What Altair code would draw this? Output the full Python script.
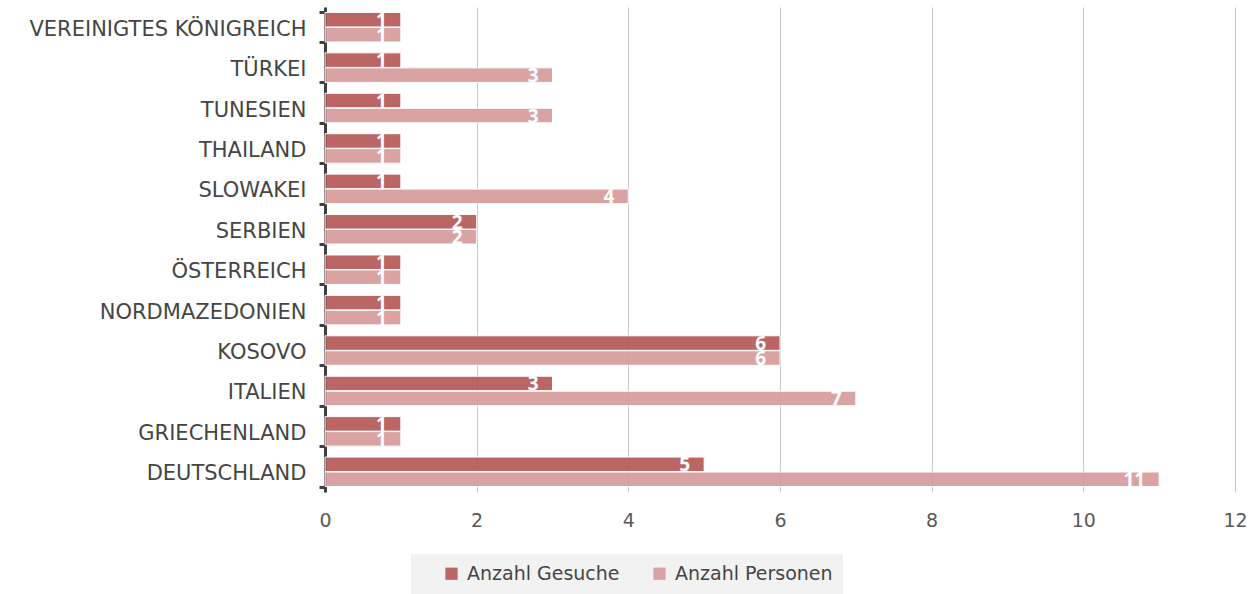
import altair as alt
import pandas as pd

# Countries, top to bottom
laender = [
    "VEREINIGTES KÖNIGREICH", "TÜRKEI", "TUNESIEN", "THAILAND", "SLOWAKEI",
    "SERBIEN", "ÖSTERREICH", "NORDMAZEDONIEN", "KOSOVO", "ITALIEN",
    "GRIECHENLAND", "DEUTSCHLAND",
]
gesuche = [1, 1, 1, 1, 1, 2, 1, 1, 6, 3, 1, 5]
personen = [1, 3, 3, 1, 4, 2, 1, 1, 6, 7, 1, 11]
serien = ["Anzahl Gesuche", "Anzahl Personen"]
farben = ["#B65A59", "#D69C9D"]
x_ticks = [0, 2, 4, 6, 8, 10, 12]

FONT = "DejaVu Sans"

rows = []
for land, g, p in zip(laender, gesuche, personen):
    rows.append({"Land": land, "Serie": serien[0], "Wert": g})
    rows.append({"Land": land, "Serie": serien[1], "Wert": p})
df = pd.DataFrame(rows)

y_enc = alt.Y(
    "Land:N", sort=laender, title=None,
    scale=alt.Scale(paddingInner=0.27, paddingOuter=0.135),
    axis=alt.Axis(
        domainColor="#404040", domainWidth=3,
        tickColor="#404040", tickWidth=3, tickSize=6, tickBand="extent",
        labelFontSize=21, labelColor="#454545", labelFont=FONT,
        labelPadding=13, labelOffset=2, grid=False, labelLimit=400,
    ),
)
yoff = alt.YOffset("Serie:N", sort=serien, scale=alt.Scale(paddingInner=0.03))

bars = alt.Chart(df).mark_bar(stroke="white", strokeWidth=1, opacity=0.92).encode(
    x=alt.X(
        "Wert:Q", title=None,
        scale=alt.Scale(domain=[0, 12], nice=False),
        axis=alt.Axis(
            values=x_ticks, format="d", domain=False, ticks=False,
            labelFlush=False,
            labelFontSize=19, labelColor="#595959", labelFont=FONT,
            labelPadding=19, gridColor="#C8C8C8", gridWidth=1,
        ),
    ),
    y=y_enc,
    yOffset=yoff,
    color=alt.Color(
        "Serie:N", sort=serien,
        scale=alt.Scale(domain=serien, range=farben),
        legend=alt.Legend(
            title=None, orient="none", direction="horizontal",
            legendX=86, legendY=547,
            fillColor="#F2F2F2", padding=10,
            symbolType="square", symbolSize=150, symbolStrokeWidth=0,
            symbolOpacity=0.92, symbolOffset=21,
            labelFontSize=19, labelColor="#454545", labelFont=FONT,
            columnPadding=9, labelOffset=6,
        ),
    ),
)

labels = alt.Chart(df).mark_text(
    align="right", baseline="middle", dx=-14, dy=1, color="white",
    fontSize=19, fontWeight="bold", font="Open Sans",
).encode(
    x="Wert:Q",
    y=alt.Y("Land:N", sort=laender),
    yOffset=alt.YOffset("Serie:N", sort=serien),
    text="Wert:Q",
)

chart = (
    alt.layer(bars, labels)
    .properties(
        width=910, height=485,
        padding={"left": 325, "top": 7, "right": 23, "bottom": 102},
        autosize=alt.AutoSizeParams(type="none"),
        background="white",
    )
    .configure_view(stroke=None)
)

chart.save("out.html", embed_options={"renderer": "svg", "actions": False})
